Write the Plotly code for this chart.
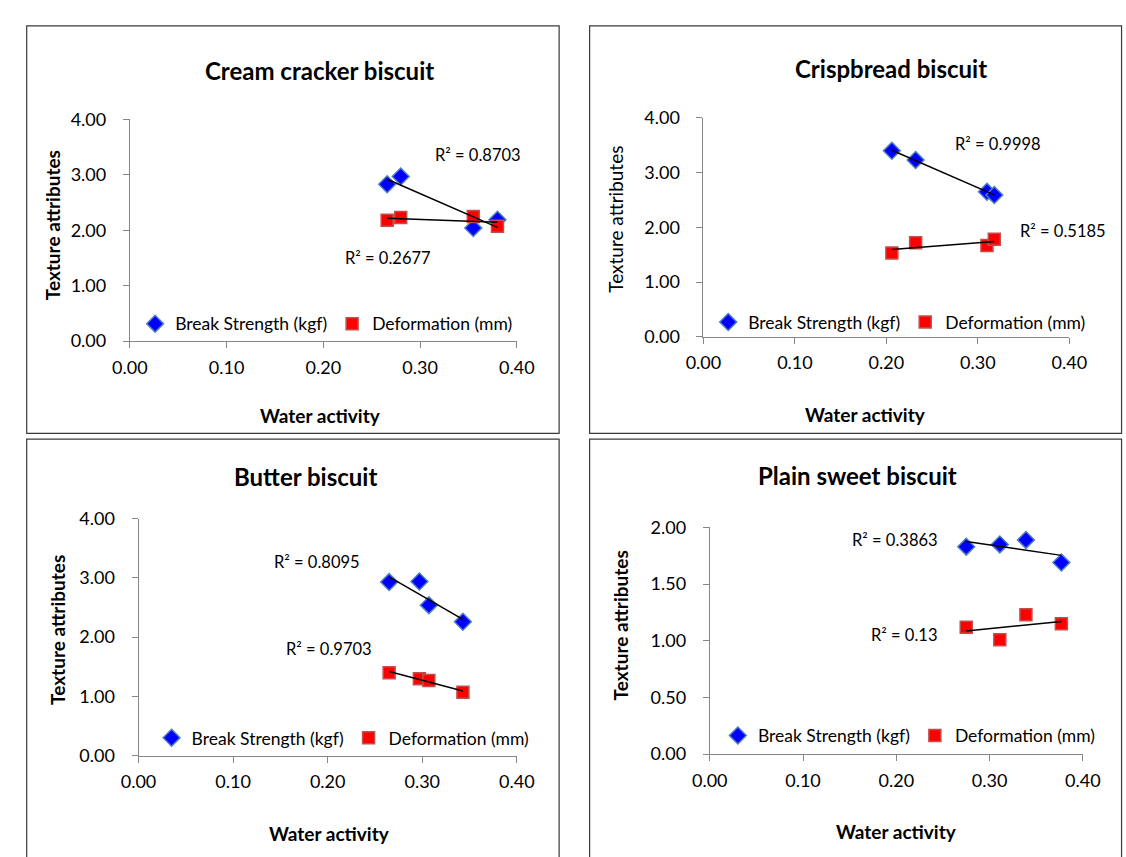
import numpy as np
import plotly.graph_objects as go

W, H = 1126, 857

# ---------------- data ----------------
panel_titles = ["Cream cracker biscuit", "Crispbread biscuit", "Butter biscuit", "Plain sweet biscuit"]

cream_aw = [0.266, 0.280, 0.355, 0.380]
cream_break = [2.83, 2.97, 2.04, 2.19]
cream_def = [2.18, 2.23, 2.25, 2.07]

crisp_aw = [0.206, 0.232, 0.310, 0.318]
crisp_break = [3.40, 3.23, 2.65, 2.59]
crisp_def = [1.53, 1.72, 1.67, 1.78]

butter_aw = [0.265, 0.297, 0.307, 0.343]
butter_break = [2.93, 2.94, 2.54, 2.26]
butter_def = [1.40, 1.30, 1.27, 1.07]

plain_aw = [0.275, 0.311, 0.339, 0.377]
plain_break = [1.83, 1.85, 1.89, 1.69]
plain_def = [1.12, 1.01, 1.23, 1.15]

r2_labels = [["R² = 0.8703", "R² = 0.2677"],
             ["R² = 0.9998", "R² = 0.5185"],
             ["R² = 0.8095", "R² = 0.9703"],
             ["R² = 0.3863", "R² = 0.13"]]

x_ticks = [0.0, 0.1, 0.2, 0.3, 0.4]
y_ticks_a = [0, 1, 2, 3, 4]
y_ticks_b = [0, 0.5, 1.0, 1.5, 2.0]

series_names = ["Break Strength (kgf)", "Deformation (mm)"]

# ---------------- layout geometry (pixels) ----------------
FONT = "Lato"
panels = [
    dict(aw=cream_aw, brk=cream_break, dfm=cream_def, xd=(115.5, 515.3), yd=(110.3, 337.7), yr=4.0, yt=y_ticks_a,
         box=(9, 14.3, 559, 432.5), title=(311, 60), ytitle=(36, 219), ybold=True, xtitle=(312.5, 414),
         leg=(121, 320), r2pos=[(0.3595, 3.354), (0.2665, 1.49)]),
    dict(aw=crisp_aw, brk=crisp_break, dfm=crisp_def, xd=(708.1, 1086.0), yd=(108.7, 333.3), yr=4.0, yt=y_ticks_a,
         box=(590.5, 14.3, 1140, 432.5), title=(902, 58), ytitle=(616.4, 212.5), ybold=False, xtitle=(875, 413),
         leg=(713, 318.3), r2pos=[(0.322, 3.514), (0.393, 1.929)]),
    dict(aw=butter_aw, brk=butter_break, dfm=butter_def, xd=(124.5, 515.3), yd=(520.0, 763.3), yr=4.0, yt=y_ticks_a,
         box=(9, 438.3, 559, 880), title=(297, 476.7), ytitle=(40.8, 633.7), ybold=True, xtitle=(321.7, 843),
         leg=(138, 745), r2pos=[(0.1889, 3.27), (0.2011, 1.797)]),
    dict(aw=plain_aw, brk=plain_break, dfm=plain_def, xd=(714.6, 1100.0), yd=(529.0, 761.7), yr=2.0, yt=y_ticks_b,
         box=(590.5, 438.3, 1140, 880), title=(867, 475.7), ytitle=(622.5, 630), ybold=True, xtitle=(907, 841),
         leg=(723, 742.7), r2pos=[(0.1987, 1.886), (0.2084, 1.052)]),
]

def px(x):
    return x / W

def py(y):
    return 1 - y / H

fig = go.Figure()
annotations = []
shapes = []
layout_axes = {}

blue_marker = dict(symbol="diamond", size=13, color="#0000FF", line=dict(color="#4F81BD", width=1.5))
red_marker = dict(symbol="square", size=12, color="#FF0000", line=dict(color="#C0504D", width=1.5))

for i, p in enumerate(panels):
    n = i + 1
    xa = "x" if n == 1 else f"x{n}"
    ya = "y" if n == 1 else f"y{n}"
    leg = "legend" if n == 1 else f"legend{n}"

    # scatter series
    fig.add_trace(go.Scatter(x=p["aw"], y=p["brk"], mode="markers", name=series_names[0],
                             marker=blue_marker, xaxis=xa, yaxis=ya, legend=leg))
    fig.add_trace(go.Scatter(x=p["aw"], y=p["dfm"], mode="markers", name=series_names[1],
                             marker=red_marker, xaxis=xa, yaxis=ya, legend=leg))
    # linear trendlines
    for vals in (p["brk"], p["dfm"]):
        xs = np.array(p["aw"])
        m, c = np.polyfit(xs, np.array(vals), 1)
        tx = np.array([xs.min(), xs.max()])
        fig.add_trace(go.Scatter(x=tx, y=m * tx + c, mode="lines", line=dict(color="black", width=1.5),
                                 showlegend=False, hoverinfo="skip", xaxis=xa, yaxis=ya))

    axis_common = dict(showgrid=False, zeroline=False, showline=True, linecolor="#868686", linewidth=1,
                       ticks="outside", ticklen=6, tickcolor="#868686",
                       tickfont=dict(family=FONT, size=18, color="black"))
    xkey = "xaxis" if n == 1 else f"xaxis{n}"
    ykey = "yaxis" if n == 1 else f"yaxis{n}"
    layout_axes[xkey] = dict(axis_common, domain=[px(p["xd"][0]), px(p["xd"][1])], range=[0, 0.4],
                             tickvals=x_ticks, tickformat=".2f", anchor=ya, ticklabelstandoff=4)
    layout_axes[ykey] = dict(axis_common, domain=[py(p["yd"][1]), py(p["yd"][0])], range=[0, p["yr"]],
                             tickvals=p["yt"], tickformat=".2f", anchor=xa, ticklabelstandoff=13)

    # legend
    layout_axes[leg] = dict(x=px(p["leg"][0]), y=py(p["leg"][1]), xanchor="left", yanchor="middle",
                            orientation="h", bgcolor="rgba(0,0,0,0)", itemwidth=30,
                            font=dict(family=FONT, size=17.5, color="black"), tracegroupgap=0,
                            traceorder="normal")

    # panel border
    bx0, by0, bx1, by1 = p["box"]
    shapes.append(dict(type="rect", xref="paper", yref="paper", x0=px(bx0), x1=px(bx1), y0=py(by1), y1=py(by0),
                       line=dict(color="#3a3a3a", width=1.2), fillcolor="rgba(0,0,0,0)", layer="below"))

    # titles
    annotations.append(dict(text=f"<b>{panel_titles[i]}</b>", x=px(p["title"][0]), y=py(p["title"][1]),
                            xref="paper", yref="paper", showarrow=False, xanchor="center", yanchor="middle",
                            font=dict(family=FONT, size=24, color="black")))
    ytxt = "<b>Texture attributes</b>" if p["ybold"] else "Texture attributes"
    annotations.append(dict(text=ytxt, x=px(p["ytitle"][0]), y=py(p["ytitle"][1]), xref="paper", yref="paper",
                            showarrow=False, textangle=-90, xanchor="center", yanchor="middle",
                            font=dict(family=FONT, size=19, color="black")))
    annotations.append(dict(text="<b>Water activity</b>", x=px(p["xtitle"][0]), y=py(p["xtitle"][1]),
                            xref="paper", yref="paper", showarrow=False, xanchor="center", yanchor="middle",
                            font=dict(family=FONT, size=19, color="black")))
    # R² labels
    for (rx, ry), lab in zip(p["r2pos"], r2_labels[i]):
        annotations.append(dict(text=lab, x=rx, y=ry, xref=xa, yref=ya, showarrow=False,
                                xanchor="center", yanchor="middle",
                                font=dict(family=FONT, size=16.5, color="black")))

fig.update_layout(
    width=W, height=H, margin=dict(l=0, r=0, t=0, b=0),
    paper_bgcolor="white", plot_bgcolor="white",
    showlegend=True, annotations=annotations, shapes=shapes,
    **layout_axes,
)

fig.write_html("out.html")
